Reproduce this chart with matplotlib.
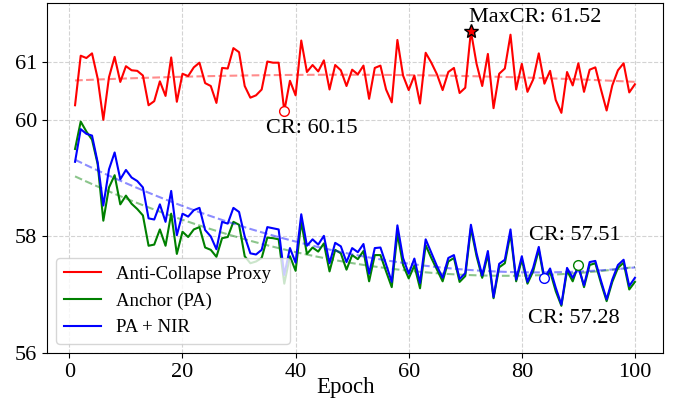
import matplotlib
matplotlib.use("Agg")
import matplotlib.pyplot as plt
import numpy as np

plt.rcParams['font.family'] = ['Liberation Serif', 'DejaVu Serif']

epochs = np.arange(1, 101)

proxy = [60.25, 61.10, 61.06, 61.14, 60.71, 60.00, 60.73, 61.08, 60.65, 60.92,
         60.85, 60.84, 60.76, 60.25, 60.32, 60.66, 60.41, 61.07, 60.31, 60.79,
         60.75, 60.90, 60.98, 60.63, 60.58, 60.29, 60.89, 60.88, 61.23, 61.16,
         60.58, 60.38, 60.42, 60.52, 61.00, 60.98, 60.98, 60.15, 60.67, 60.42,
         61.36, 60.82, 60.94, 60.83, 61.02, 60.52, 60.94, 60.85, 60.58, 60.86,
         60.78, 60.93, 60.36, 60.89, 60.93, 60.52, 60.30, 61.37, 60.76, 60.51,
         60.76, 60.28, 61.15, 60.98, 60.78, 60.51, 60.82, 60.89, 60.46, 60.55,
         61.52, 60.96, 60.58, 61.13, 60.20, 60.79, 60.88, 61.46, 60.52, 60.96,
         60.48, 60.69, 61.14, 60.62, 60.84, 60.34, 60.12, 60.82, 60.59, 60.97,
         60.48, 60.86, 60.90, 60.52, 60.16, 60.59, 60.85, 60.97, 60.47, 60.61]

anchor = [59.50, 59.97, 59.80, 59.66, 59.24, 58.27, 58.84, 59.05, 58.55, 58.70,
          58.56, 58.47, 58.36, 57.84, 57.86, 58.12, 57.84, 58.39, 57.70, 58.08,
          57.99, 58.12, 58.16, 57.81, 57.77, 57.65, 57.97, 57.99, 58.25, 58.20,
          57.66, 57.54, 57.57, 57.63, 57.98, 57.97, 57.95, 57.19, 57.66, 57.41,
          58.25, 57.70, 57.81, 57.74, 57.88, 57.40, 57.77, 57.71, 57.43, 57.68,
          57.61, 57.75, 57.23, 57.68, 57.68, 57.40, 57.13, 58.05, 57.51, 57.28,
          57.50, 57.11, 57.85, 57.63, 57.43, 57.23, 57.57, 57.63, 57.22, 57.32,
          58.14, 57.66, 57.29, 57.69, 56.94, 57.47, 57.54, 58.05, 57.23, 57.60,
          57.19, 57.40, 57.77, 57.24, 57.40, 57.06, 56.81, 57.41, 57.23, 57.51,
          57.13, 57.51, 57.54, 57.20, 56.89, 57.22, 57.46, 57.55, 57.09, 57.22]

pa_nir = [59.28, 59.84, 59.76, 59.73, 59.27, 58.53, 59.15, 59.44, 58.98, 59.14,
          59.01, 58.95, 58.84, 58.31, 58.29, 58.55, 58.25, 58.78, 58.02, 58.39,
          58.34, 58.45, 58.49, 58.11, 58.00, 57.78, 58.25, 58.22, 58.49, 58.42,
          58.00, 57.71, 57.69, 57.77, 58.16, 58.14, 58.12, 57.34, 57.80, 57.55,
          58.38, 57.84, 57.95, 57.86, 58.01, 57.54, 57.89, 57.83, 57.56, 57.80,
          57.73, 57.87, 57.36, 57.80, 57.81, 57.52, 57.22, 58.19, 57.63, 57.36,
          57.62, 57.20, 57.95, 57.72, 57.49, 57.29, 57.63, 57.68, 57.27, 57.37,
          58.20, 57.71, 57.33, 57.75, 56.96, 57.53, 57.60, 58.12, 57.26, 57.66,
          57.22, 57.46, 57.82, 57.28, 57.45, 57.12, 56.83, 57.46, 57.29, 57.47,
          57.16, 57.56, 57.58, 57.24, 56.92, 57.26, 57.51, 57.60, 57.15, 57.29]

series = [("Anti-Collapse Proxy", proxy, "red"),
          ("Anchor (PA)", anchor, "green"),
          ("PA + NIR", pa_nir, "blue")]

fig, ax = plt.subplots(figsize=(6.82, 4.03), dpi=100)
fig.subplots_adjust(left=0.069, right=0.972, top=0.992, bottom=0.124)

for name, vals, col in series:
    vals = np.array(vals)
    ax.plot(epochs, vals, color=col, lw=1.5, label=name)
    # quadratic trend
    coef = np.polyfit(epochs, vals, 2)
    ax.plot(epochs, np.polyval(coef, epochs), "--", color=col, lw=1.5, alpha=0.45)

# highlighted points
ax.plot(71, proxy[70], marker="*", ms=10, mfc="red", mec="black", zorder=5)
ax.annotate("MaxCR: 61.52", (71, proxy[70]), xytext=(-2, 4), textcoords="offset pixels",
            ha="left", va="bottom", fontsize=16)
ax.plot(38, proxy[37], "o", ms=7, mfc="white", mec="red", zorder=5)
ax.annotate("CR: 60.15", (38, proxy[37]), xytext=(-18, -8), textcoords="offset pixels",
            ha="left", va="top", fontsize=16)
ax.plot(90, anchor[89], "o", ms=7, mfc="white", mec="green", zorder=5)
ax.annotate("CR: 57.51", (90, anchor[89]), xytext=(-49, 20), textcoords="offset pixels",
            ha="left", va="bottom", fontsize=16)
ax.plot(84, pa_nir[83], "o", ms=7, mfc="white", mec="blue", zorder=5)
ax.annotate("CR: 57.28", (84, pa_nir[83]), xytext=(-16, -31), textcoords="offset pixels",
            ha="left", va="top", fontsize=16)

ax.set_ylim(56, 62)
ax.set_yticks([56, 58, 60, 61])
ax.set_xticks([0, 20, 40, 60, 80, 100])
ax.tick_params(labelsize=16)
ax.set_xlabel("Epoch", fontsize=16.5)
ax.xaxis.set_label_coords(0.485, -0.068)
ax.grid(True, linestyle="--", color="lightgray", lw=0.8)
ax.legend(loc="lower left", fontsize=13.5, mode="expand",
          bbox_to_anchor=(0, 0, 0.41, 1))

plt.savefig("out.png")
